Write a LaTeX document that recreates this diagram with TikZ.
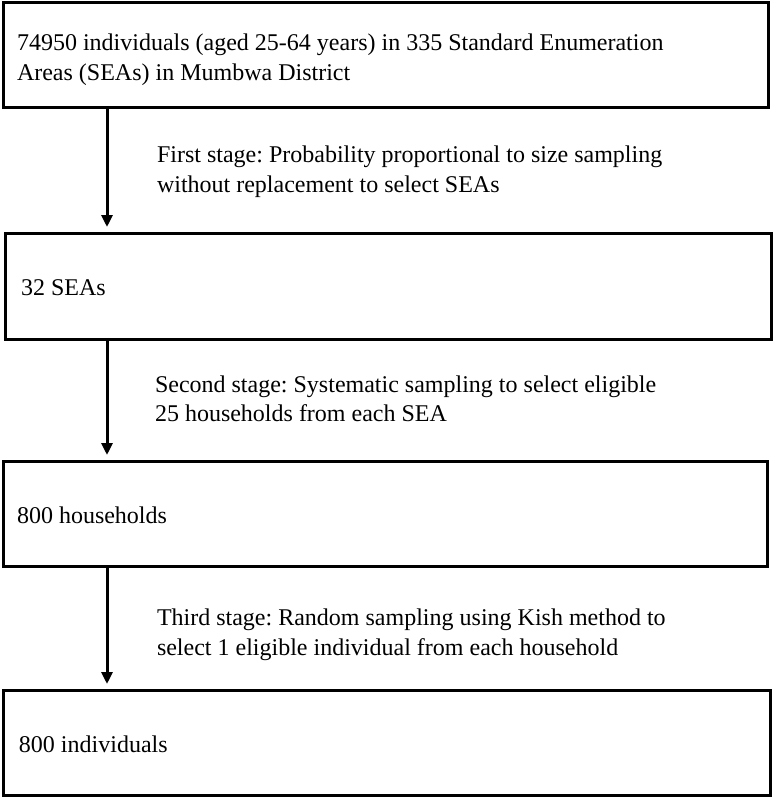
\documentclass[tikz,border=0pt]{standalone}
\usepackage{fontspec}
\setmainfont{Liberation Serif}
\usetikzlibrary{arrows.meta}
\frenchspacing
\begin{document}
\begin{tikzpicture}[x=1pt,y=-1pt,
  stagebox/.style={draw=black, line width=3pt, outer sep=0pt, inner sep=0pt, anchor=north west},
  txt/.style={anchor=base west, inner sep=0pt, outer sep=0pt, align=left, font=\fontsize{24}{29.5}\selectfont},
  arr/.style={line width=3pt, -{Triangle[width=11pt,length=12pt]}, shorten >=6pt}]
\fill[white] (0,0) rectangle (774,798);
\useasboundingbox (0,0) rectangle (774,798);
% boxes
\node[stagebox, minimum width=765pt, minimum height=105pt] (b1) at (3,2) {};
\node[stagebox, minimum width=766pt, minimum height=106pt] (b2) at (5,233) {};
\node[stagebox, minimum width=764pt, minimum height=105pt] (b3) at (3,461) {};
\node[stagebox, minimum width=767pt, minimum height=105pt] (b4) at (3,690) {};
% box texts (base anchor = baseline of last line)
\node[txt] (t1) at (17,80) {74950 individuals (aged 25-64 years) in 335 Standard Enumeration\\Areas (SEAs) in Mumbwa District};
\node[txt] (t2) at (21,295) {32 SEAs};
\node[txt] (t3) at (17,523) {800 households};
\node[txt] (t4) at (19,752) {800 individuals};
% stage texts
\node[txt] (s1) at (157,192) {First stage: Probability proportional to size sampling\\without replacement to select SEAs};
\node[txt] (s2) at (155,421.5) {Second stage: Systematic sampling to select eligible\\25 households from each SEA};
\node[txt] (s3) at (157,655) {Third stage: Random sampling using Kish method to\\select 1 eligible individual from each household};
% arrows
\coordinate (ax) at (107,0);
\draw[arr] (b1.south -| ax) -- (b2.north -| ax);
\draw[arr] (b2.south -| ax) -- (b3.north -| ax);
\draw[arr] (b3.south -| ax) -- (b4.north -| ax);
\end{tikzpicture}
\end{document}
